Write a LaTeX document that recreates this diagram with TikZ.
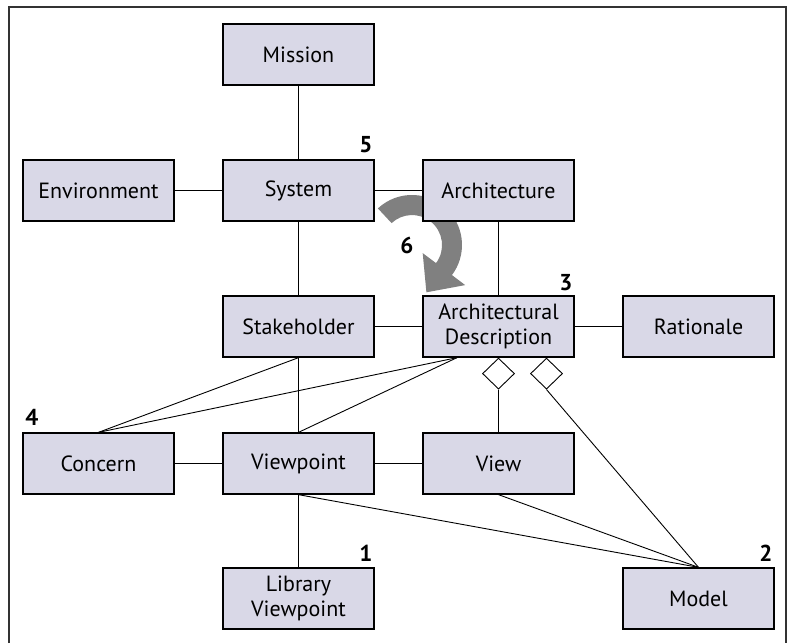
\documentclass[tikz,border=0pt]{standalone}
\usepackage{fontspec}
\setmainfont{PT Sans}
\usetikzlibrary{shapes.geometric}
\definecolor{boxfill}{RGB}{217,216,231}
\definecolor{arrowgray}{RGB}{128,128,128}
\tikzset{
box/.style={draw=black,line width=1.3pt,fill=boxfill,minimum width=151pt,minimum height=61pt,inner sep=0pt,align=center,font=\fontsize{22}{25}\selectfont},
agg/.style={diamond,draw=black,line width=0.9pt,fill=white,minimum width=32pt,minimum height=31pt,inner sep=0pt},
num/.style={font=\fontsize{23}{25}\selectfont\bfseries,inner sep=0pt},
link/.style={line width=0.9pt}
}
\begin{document}
\begin{tikzpicture}[x=1pt,y=-1pt]
\useasboundingbox (0,0) rectangle (792,643);
\draw[line width=1.7pt,color=black!80] (9,643)--(9,7)--(786,7)--(786,643);
\fill[arrowgray] (377.9,208.4) arc[start angle=-133,end angle=37,radius=50] -- (465.2,285.1) -- (426.4,292.3) -- (422.7,253.1) -- (436.0,263.1) arc[start angle=37,end angle=-133,radius=30] -- cycle;
\node[box] (mission) at (298.5,54.5) {Mission};
\node[box] (env) at (98.5,190.5) {Environment};
\node[box] (system) at (298.5,190.5) {System};
\node[box] (arch) at (498.5,190.5) {Architecture};
\node[box] (stake) at (298.5,326.5) {Stakeholder};
\node[box] (ad) at (498.5,326.5) {Architectural\\Description};
\node[box] (rationale) at (698.5,326.5) {Rationale};
\node[box] (concern) at (98.5,463.5) {Concern};
\node[box] (viewpoint) at (298.5,463.5) {Viewpoint};
\node[box] (view) at (498.5,463.5) {View};
\node[box] (library) at (298.5,598.5) {Library\\Viewpoint};
\node[box] (model) at (698.5,598.5) {Model};
\node[agg,anchor=north] (aggview) at (ad.south) {};
\node[agg,anchor=north] (aggmodel) at ([xshift=48pt]ad.south) {};
\draw[link] (mission) -- (system);
\draw[link] (env) -- (system);
\draw[link] (system) -- (arch);
\draw[link] (arch) -- (ad);
\draw[link] (system) -- (stake);
\draw[link] (stake) -- (ad);
\draw[link] (ad) -- (rationale);
\draw[link] (stake) -- (viewpoint);
\draw[link] (stake.south) -- (concern.north);
\draw[link] ([xshift=-41.5pt]ad.south) -- (concern.north);
\draw[link] ([xshift=-41.5pt]ad.south) -- (viewpoint.north);
\draw[link] (aggview) -- (view);
\draw[link] (concern) -- (viewpoint);
\draw[link] (viewpoint) -- (view);
\draw[link] (viewpoint) -- (library);
\draw[link] (viewpoint.south) -- (model.north);
\draw[link] (view.south) -- (model.north);
\draw[link] (aggmodel.south) -- (model.north);
\node[num] (n5) at (366,145) {5};
\node[num] (n6) at (407,245) {6};
\node[num] (n3) at (566,283) {3};
\node[num] (n4) at (32,417) {4};
\node[num] (n1) at (366,553) {1};
\node[num] (n2) at (766,553) {2};
\end{tikzpicture}
\end{document}
